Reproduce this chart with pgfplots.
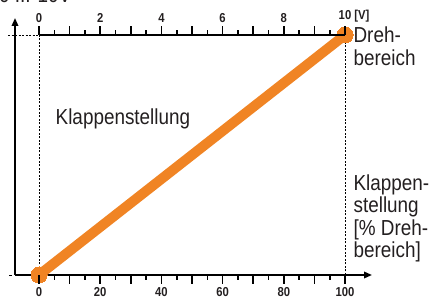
\documentclass[border=0pt]{standalone}
\usepackage{fontspec}
\setmainfont{Liberation Sans}
\newfontfamily\narrowfont[FakeStretch=0.87]{Liberation Sans}
\usepackage{pgfplots}
\pgfplotsset{compat=1.18}
\usetikzlibrary{arrows.meta}
\definecolor{klorange}{RGB}{240,132,36}
\definecolor{txt}{RGB}{35,31,32}
\newcommand{\bigtxt}{\narrowfont\fontsize{21.8}{23.5}\selectfont}
\newcommand{\ticktxt}{\narrowfont\bfseries\fontsize{13}{15}\selectfont}
\begin{document}
\begin{tikzpicture}
% main axis (Klappenstellung)
\begin{axis}[
  scale only axis, width=357bp, height=257bp,
  at={(15bp,30bp)}, anchor=south west,
  xmin=-7.843, xmax=108.82, ymin=0, ymax=107.08,
  axis x line=bottom, axis y line=left,
  ytick=\empty,
  xtick={0,10,...,100},
  xticklabels={0,,20,,40,,60,,80,,100},
  minor xtick={5,15,...,95},
  xtick align=outside,
  major tick length=9pt, minor tick length=5pt,
  tick style={black, line width=1.5pt},
  axis line style={black, line width=1.8bp, -{Triangle[length=8bp,width=6.5bp]}},
  xticklabel style={font=\ticktxt, text=txt},
  clip=false,
]
\draw[black, line width=0.8bp, dash pattern=on 2bp off 1.5bp] (axis cs:0,0) -- (axis cs:0,100);
\draw[black, line width=0.8bp, dash pattern=on 2bp off 1.5bp] (axis cs:100,0) -- (axis cs:100,100);
\draw[black, line width=0.8bp, dash pattern=on 2bp off 1.5bp] (axis cs:-10.13,100) -- (axis cs:0,100);
\draw[black, line width=0.8bp] (axis cs:-9.8,0) -- (axis cs:-8.9,0);
\addplot[klorange, line width=10bp, mark=*, mark size=8bp, mark options={solid, fill=klorange, draw=klorange, line width=0pt}] coordinates {(0,0) (100,100)};
\end{axis}
% top axis (0 ... 10 V)
\begin{axis}[
  scale only axis, width=306bp, height=10bp,
  at={(39bp,270bp)}, anchor=north west,
  xmin=0, xmax=10, ymin=0, ymax=1,
  axis x line*=top, axis y line=none,
  xtick={0,1,...,10},
  xticklabels={0,,2,,4,,6,,8,,10\rlap{ [V]}},
  minor xtick={0.5,1.5,...,9.5},
  xtick align=outside,
  major tick length=9pt, minor tick length=5pt,
  tick style={black, line width=1.5pt},
  axis line style={black, line width=1.8bp},
  xticklabel style={font=\ticktxt, text=txt},
  clip=false,
]
\end{axis}
% tick marks of both scales as thin filled bars
\foreach \i in {0,1,...,20}{
  \pgfmathsetmacro\xl{39+15.3*\i-0.8}
  \pgfmathsetmacro\xr{39+15.3*\i+0.8}
  \pgfmathsetmacro\len{ifthenelse(mod(\i,2)==0,9,5)}
  \pgfmathsetmacro\yb{30-\len}
  \pgfmathsetmacro\yt{270+\len}
  \fill[black] (\xl bp,30bp) rectangle (\xr bp,\yb bp);
  \fill[black] (\xl bp,270bp) rectangle (\xr bp,\yt bp);
}
% texts
\node[anchor=base west, inner sep=0pt, text=txt, font=\bigtxt] at (55.5bp,180.7bp) {Klappenstellung};
\node[anchor=base west, inner sep=0pt, text=txt, font=\bigtxt] at (353.4bp,262.3bp) {Dreh-};
\node[anchor=base west, inner sep=0pt, text=txt, font=\bigtxt] at (353.4bp,239.7bp) {bereich};
\node[anchor=base west, inner sep=0pt, text=txt, font=\bigtxt] at (353.4bp,114.3bp) {Klappen-};
\node[anchor=base west, inner sep=0pt, text=txt, font=\bigtxt] at (353.4bp,92.3bp) {stellung};
\node[anchor=base west, inner sep=0pt, text=txt, font=\bigtxt] at (353.4bp,69.7bp) {[\% Dreh-};
\node[anchor=base west, inner sep=0pt, text=txt, font=\bigtxt] at (353.4bp,47.3bp) {bereich]};
\node[anchor=base west, inner sep=0pt, text=txt, font=\bigtxt] at (-1bp,302bp) {0 ... 10V};
\pgfresetboundingbox
\useasboundingbox (0bp,0bp) rectangle (430bp,305bp);
\end{tikzpicture}
\end{document}
